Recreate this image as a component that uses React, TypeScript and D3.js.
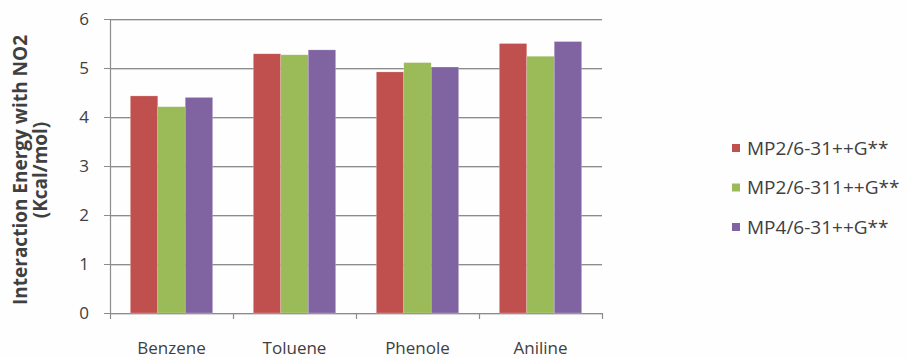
import React, { useEffect, useRef } from "react";
import * as d3 from "d3";

const categories = ["Benzene", "Toluene", "Phenole", "Aniline"];
const seriesNames = ["MP2/6-31++G**", "MP2/6-311++G**", "MP4/6-31++G**"];
const mp2Small = [4.43, 5.29, 4.92, 5.5];
const mp2Large = [4.21, 5.27, 5.11, 5.24];
const mp4Small = [4.4, 5.37, 5.02, 5.54];
const seriesColors = ["#C0504D", "#9BBB59", "#8064A2"];
const yTicks = [0, 1, 2, 3, 4, 5, 6];

const W = 907;
const H = 358;
const FONT = "'Open Sans', sans-serif";

export default function App() {
  const ref = useRef<SVGSVGElement>(null);

  useEffect(() => {
    const svg = d3.select(ref.current);
    svg.selectAll("*").remove();

    const seriesValues = [mp2Small, mp2Large, mp4Small];
    const left = 110;
    const right = 602;
    const top = 19;
    const bottom = 313;

    const x0 = d3.scaleBand<string>().domain(categories).range([left, right]).padding(0);
    const x1 = d3
      .scaleBand<string>()
      .domain(seriesNames)
      .range([0, x0.bandwidth()])
      .paddingInner(0)
      .paddingOuter(0.74);
    const y = d3.scaleLinear().domain([0, 6]).range([bottom, top]);

    svg.append("rect").attr("width", W).attr("height", H).attr("fill", "#fefefe");

    // horizontal gridlines with a faint shadow line underneath
    const grid = svg.append("g");
    yTicks.forEach((t) => {
      grid
        .append("line")
        .attr("x1", left)
        .attr("x2", right)
        .attr("y1", Math.round(y(t)) + 1.5)
        .attr("y2", Math.round(y(t)) + 1.5)
        .attr("stroke", "#d6d6d6")
        .attr("stroke-width", 1);
      grid
        .append("line")
        .attr("x1", left - 6)
        .attr("x2", right)
        .attr("y1", Math.round(y(t)) + 0.5)
        .attr("y2", Math.round(y(t)) + 0.5)
        .attr("stroke", "#8c8c8c")
        .attr("stroke-width", 1.2);
    });

    // bars
    const groups = svg
      .append("g")
      .selectAll("g")
      .data(categories)
      .join("g")
      .attr("transform", (c) => `translate(${x0(c)},0)`);

    groups
      .selectAll("rect")
      .data((c) => seriesNames.map((s, k) => ({ s, k, v: seriesValues[k][categories.indexOf(c)] })))
      .join("rect")
      .attr("x", (d) => x1(d.s)!)
      .attr("width", x1.bandwidth())
      .attr("y", (d) => y(d.v))
      .attr("height", (d) => y(0) - y(d.v))
      .attr("fill", (d) => seriesColors[d.k])
      .attr("stroke", "rgba(255,255,255,0.35)")
      .attr("stroke-width", 0.6);

    // y axis line
    svg
      .append("line")
      .attr("x1", left + 0.5)
      .attr("x2", left + 0.5)
      .attr("y1", top)
      .attr("y2", bottom)
      .attr("stroke", "#8c8c8c")
      .attr("stroke-width", 1.2);

    // x axis category ticks
    const xTickPos = categories.map((c) => x0(c)!).concat([right]);
    xTickPos.forEach((p) => {
      svg
        .append("line")
        .attr("x1", p + 0.5)
        .attr("x2", p + 0.5)
        .attr("y1", bottom)
        .attr("y2", bottom + 6)
        .attr("stroke", "#8c8c8c")
        .attr("stroke-width", 1.2);
    });

    // y tick labels
    svg
      .append("g")
      .selectAll("text")
      .data(yTicks)
      .join("text")
      .attr("x", 89)
      .attr("y", (d) => y(d))
      .attr("dy", "0.36em")
      .attr("text-anchor", "end")
      .attr("font-family", FONT)
      .attr("font-size", 17)
      .attr("fill", "#404040")
      .text((d) => String(d));

    // category labels
    svg
      .append("g")
      .selectAll("text")
      .data(categories)
      .join("text")
      .attr("x", (c) => x0(c)! + x0.bandwidth() / 2)
      .attr("y", 354)
      .attr("text-anchor", "middle")
      .attr("font-family", FONT)
      .attr("font-size", 17)
      .attr("fill", "#404040")
      .text((c) => c);

    // y axis title
    const title = svg
      .append("text")
      .attr("transform", `translate(0, ${(top + bottom) / 2 + 4}) rotate(-90)`)
      .attr("text-anchor", "middle")
      .attr("font-family", FONT)
      .attr("font-size", 19)
      .attr("font-weight", "bold")
      .attr("fill", "#404040");
    title.append("tspan").attr("x", 0).attr("y", 27).text("Interaction Energy with NO2");
    title.append("tspan").attr("x", 0).attr("y", 47).text("(Kcal/mol)");

    // legend
    const legend = svg
      .append("g")
      .selectAll("g")
      .data(seriesNames)
      .join("g")
      .attr("transform", (d, i) => `translate(732, ${148 + i * 39.5})`);
    legend
      .append("rect")
      .attr("x", 0)
      .attr("y", -4)
      .attr("width", 8)
      .attr("height", 8)
      .attr("fill", (d, i) => seriesColors[i]);
    legend
      .append("text")
      .attr("x", 15)
      .attr("y", 0)
      .attr("dy", "0.36em")
      .attr("font-family", FONT)
      .attr("font-size", 19)
      .attr("fill", "#404040")
      .text((d) => d);
  }, []);

  return (
    <svg
      ref={ref}
      width={W}
      height={H}
      style={{ position: "absolute", left: 0, top: 0, display: "block" }}
    />
  );
}
